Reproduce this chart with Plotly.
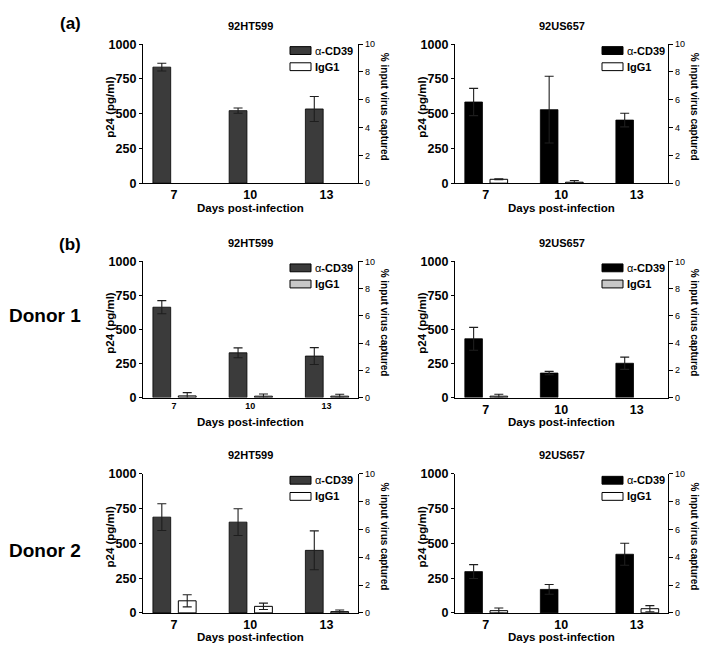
import plotly.graph_objects as go

W, H = 704, 661

days = [7, 10, 13]
day_labels = ["7", "10", "13"]

# (a)
a_HT_cd39 = [835, 522, 534]
a_HT_cd39_err = [28, 19, 90]
a_HT_igg = [None, None, None]
a_HT_igg_err = [None, None, None]
a_US_cd39 = [584, 529, 454]
a_US_cd39_err = [98, 240, 49]
a_US_igg = [28, 7, None]
a_US_igg_err = [3, 12, None]
# (b) donor 1
b1_HT_cd39 = [664, 329, 305]
b1_HT_cd39_err = [48, 36, 62]
b1_HT_igg = [12, 10, 10]
b1_HT_igg_err = [24, 16, 14]
b1_US_cd39 = [432, 180, 252]
b1_US_cd39_err = [84, 12, 45]
b1_US_igg = [10, None, None]
b1_US_igg_err = [14, None, None]
# (b) donor 2
b2_HT_cd39 = [689, 653, 450]
b2_HT_cd39_err = [96, 96, 140]
b2_HT_igg = [87, 47, 9]
b2_HT_igg_err = [44, 23, 12]
b2_US_cd39 = [297, 169, 422]
b2_US_cd39_err = [50, 35, 79]
b2_US_igg = [16, None, 30]
b2_US_igg_err = [19, None, 22]

y_ticks = [0, 250, 500, 750, 1000]
y2_ticks = [0, 2, 4, 6, 8, 10]

FONT = "Arial, Liberation Sans, sans-serif"
HT_COLOR = "#3b3b3b"
US_COLOR = "#000000"

def xp(px):
    return px / W

def yp(py):
    return 1 - py / H

cols = {"L": (143, 358), "R": (455, 668)}
rows = {"a": (38, 180), "b1": (260, 399), "b2": (477, 619)}

panels = [
    dict(col="L", row="a", title="92HT599", cd=a_HT_cd39, cde=a_HT_cd39_err, ig=a_HT_igg, ige=a_HT_igg_err,
         cdc=HT_COLOR, igc="#ffffff", tfs=12.5),
    dict(col="R", row="a", title="92US657", cd=a_US_cd39, cde=a_US_cd39_err, ig=a_US_igg, ige=a_US_igg_err,
         cdc=US_COLOR, igc="#ffffff", tfs=12.5),
    dict(col="L", row="b1", title="92HT599", cd=b1_HT_cd39, cde=b1_HT_cd39_err, ig=b1_HT_igg, ige=b1_HT_igg_err,
         cdc=HT_COLOR, igc="#c8c8c8", tfs=9),
    dict(col="R", row="b1", title="92US657", cd=b1_US_cd39, cde=b1_US_cd39_err, ig=b1_US_igg, ige=b1_US_igg_err,
         cdc=US_COLOR, igc="#c8c8c8", tfs=12.5),
    dict(col="L", row="b2", title="92HT599", cd=b2_HT_cd39, cde=b2_HT_cd39_err, ig=b2_HT_igg, ige=b2_HT_igg_err,
         cdc=HT_COLOR, igc="#ffffff", tfs=12.5),
    dict(col="R", row="b2", title="92US657", cd=b2_US_cd39, cde=b2_US_cd39_err, ig=b2_US_igg, ige=b2_US_igg_err,
         cdc=US_COLOR, igc="#ffffff", tfs=12.5),
]

fig = go.Figure()
layout = dict(
    width=W, height=H, margin=dict(l=0, r=0, t=0, b=0),
    paper_bgcolor="white", plot_bgcolor="white", showlegend=False,
    font=dict(family=FONT, color="black"),
    barmode="overlay",
)
shapes = []
annotations = []

BW = 0.7
for i, p in enumerate(panels, start=1):
    x0, x1 = cols[p["col"]]
    top, bot = rows[p["row"]]
    xa = "x" if i == 1 else f"x{i}"
    ya = "y" if i == 1 else f"y{i}"
    ya2 = f"y{i + 6}"
    err_col = "#1e1e1e"
    fig.add_trace(go.Bar(
        x=days, y=p["cd"], width=BW, offset=-0.83, xaxis=xa, yaxis=ya,
        marker=dict(color=p["cdc"], line=dict(color="#000", width=0.8)),
        error_y=dict(type="data", array=p["cde"], color=err_col, thickness=1.1, width=4.5),
        name="α-CD39", hoverinfo="skip",
    ))
    fig.add_trace(go.Bar(
        x=days, y=p["ig"], width=BW, offset=0.17, xaxis=xa, yaxis=ya,
        marker=dict(color=p["igc"], line=dict(color="#000", width=1)),
        error_y=dict(type="data", array=p["ige"], color=err_col, thickness=1.1, width=4.5),
        name="IgG1", hoverinfo="skip",
    ))
    # empty trace so the secondary (% captured) axis is drawn
    fig.add_trace(go.Scatter(x=[None], y=[None], xaxis=xa, yaxis=ya2, mode="lines",
                             hoverinfo="skip", showlegend=False))
    xkey = "xaxis" if i == 1 else f"xaxis{i}"
    ykey = "yaxis" if i == 1 else f"yaxis{i}"
    y2key = f"yaxis{i + 6}"
    layout[xkey] = dict(
        domain=[xp(x0), xp(x1)], anchor=ya, range=[5.78, 14.24],
        tickvals=days, ticktext=day_labels, ticks="", showgrid=False, zeroline=False,
        showline=True, linecolor="black", linewidth=1.3,
        tickfont=dict(size=p["tfs"], family=FONT, weight="bold"), fixedrange=True,
    )
    layout[ykey] = dict(
        domain=[yp(bot), yp(top)], anchor=xa, range=[0, 1000],
        tickvals=y_ticks, ticks="outside", ticklen=3, tickwidth=1.2, tickcolor="black",
        showgrid=False, zeroline=False, showline=True, linecolor="black", linewidth=1.3,
        tickfont=dict(size=12.5, family=FONT, weight="bold"), fixedrange=True,
    )
    layout[y2key] = dict(
        overlaying=ya, anchor=xa, side="right", range=[0, 10],
        tickvals=y2_ticks, ticks="outside", ticklen=4, tickwidth=1.2, tickcolor="black",
        showgrid=False, zeroline=False, showline=True, linecolor="black", linewidth=1.3,
        tickfont=dict(size=9, family=FONT), fixedrange=True,
    )
    # panel title
    annotations.append(dict(x=xp((x0 + x1) / 2), y=yp(top - 19), xref="paper", yref="paper",
                            text=p["title"], showarrow=False, xanchor="center", yanchor="middle",
                            font=dict(size=11, family=FONT, weight="bold")))
    # x axis title
    annotations.append(dict(x=xp((x0 + x1) / 2), y=yp(bot + 25), xref="paper", yref="paper",
                            text="Days post-infection", showarrow=False, xanchor="center", yanchor="middle",
                            font=dict(size=11.5, family=FONT, weight="bold")))
    mid = (top + bot) / 2 - 7
    # left y title
    annotations.append(dict(x=xp(x0 - 33), y=yp(mid), xref="paper", yref="paper",
                            text="p24 (pg/ml)", showarrow=False, textangle=-90,
                            xanchor="center", yanchor="middle",
                            font=dict(size=11.5, family=FONT, weight="bold")))
    # right y title
    annotations.append(dict(x=xp(x1 + 26), y=yp(mid), xref="paper", yref="paper",
                            text="% input virus captured", showarrow=False, textangle=90,
                            xanchor="center", yanchor="middle",
                            font=dict(size=10, family=FONT, weight="bold")))
    # legend
    lx0 = x0 + 147
    for k, (lab, fill, dy) in enumerate([
        ("<span style='font-weight:normal'>α</span>-CD39", p["cdc"], 2.5),
        ("IgG1", p["igc"], 19),
    ]):
        shapes.append(dict(type="rect", xref="paper", yref="paper",
                           x0=xp(lx0), x1=xp(lx0 + 21), y0=yp(top + dy + 8), y1=yp(top + dy),
                           fillcolor=fill, line=dict(color="black", width=1)))
        annotations.append(dict(x=xp(lx0 + 23), y=yp(top + dy + 4), xref="paper", yref="paper",
                                text=lab, showarrow=False, xanchor="left", yanchor="middle",
                                font=dict(size=11, family=FONT, weight="bold")))

# section labels
for txt, x, y, s in [("(a)", 70, 17, 17), ("(b)", 70, 243, 17),
                     ("Donor 1", 45, 315, 19), ("Donor 2", 45, 555, 19)]:
    annotations.append(dict(x=xp(x), y=yp(y), xref="paper", yref="paper", text=txt,
                            showarrow=False, xanchor="center", yanchor="middle",
                            font=dict(size=s, family=FONT, weight="bold")))

layout["shapes"] = shapes
layout["annotations"] = annotations
fig.update_layout(**layout)
fig.write_html(
    "out.html",
    config={"displayModeBar": False},
    post_script="document.body.style.margin='0px';document.body.style.overflow='hidden';",
)
